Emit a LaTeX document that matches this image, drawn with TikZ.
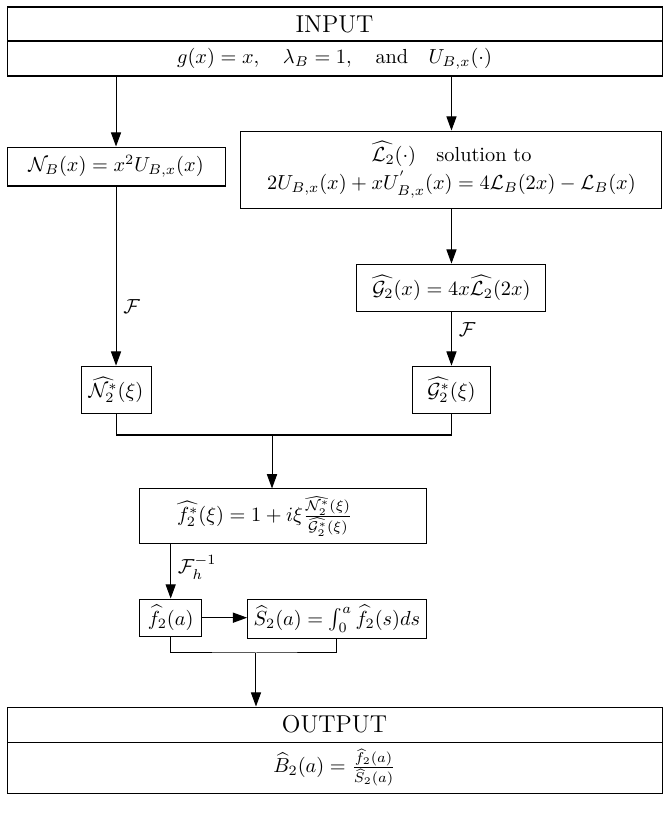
\documentclass[tikz,border=0pt]{standalone}
\usepackage{amssymb}
\usepackage{amsmath}
\usepackage{tikz}
\usetikzlibrary{arrows.meta,positioning,calc}
\tikzset{
  blk/.style={rectangle, draw=black, line width=0.5pt, align=center, inner sep=3pt},
  arr/.style={-{Triangle[length=7pt,width=5pt]}, line width=0.5pt, draw=black},
  lnk/.style={line width=0.5pt, draw=black},
}

\begin{document}
\begin{tikzpicture}
        \useasboundingbox (0,0) rectangle (11.55,-14.126);
        % input block
        \node[blk, minimum width=11.325cm, minimum height=0.588cm, font=\large] (inhead) at (5.784,-0.415) {INPUT};
        \node[blk, minimum width=11.325cm, minimum height=0.605cm, below=-0.5pt of inhead] (inbody)
          {$g(x)=x,\quad \lambda_B=1,\quad \text{and}\quad U_{B,x}(\cdot)$};
        % left branch
        \node[blk, minimum width=3.769cm, minimum height=0.674cm] (nb) at (2.006,-2.879) {$\mathcal{N}_B(x)=x^2U_{B,x}(x)$};
        % right branch
        \node[blk, minimum width=7.279cm, minimum height=1.331cm] (lsol) at (7.806,-2.931)
          {$\widehat{\mathcal{L}_2}(\cdot)\quad\text{solution to}$\\[2pt]
           $2U_{B,x}(x)+xU_{B,x}^{'}(x)=4\mathcal{L}_B(2x)-\mathcal{L}_B(x)$};
        \node[blk, minimum width=3.268cm, minimum height=0.813cm, below=0.952cm of lsol] (gtwo)
          {$\widehat{\mathcal{G}_2}(x)=4x\widehat{\mathcal{L}_2}(2x)$};
        \node[blk, minimum width=1.349cm, minimum height=0.813cm, below=0.934cm of gtwo] (gstar) {$\widehat{\mathcal{G}_2^*}(\xi)$};
        \node[blk, minimum width=1.21cm, minimum height=0.813cm] (nstar) at (nb |- gstar) {$\widehat{\mathcal{N}_2^*}(\xi)$};
        \coordinate (jtop) at (4.703,-7.521);
        % middle
        \node[blk, text width=4.745cm, align=left, minimum height=0.951cm] (fstar) at (4.893,-8.930)
          {\hspace*{0.54cm}$\widehat{f_2^*}(\xi)=1+i\xi\frac{\widehat{\mathcal{N}_2^*}(\xi)}{\widehat{\mathcal{G}_2^*}(\xi)}$};
        \node[blk, minimum width=1.072cm, minimum height=0.536cm, below right=0.934cm and 0cm of fstar.south west] (ftwo)
          {$\widehat{f}_2(a)$};
        \node[blk, minimum width=2.957cm, minimum height=0.536cm, below left=0.934cm and 0cm of fstar.south east] (stwo)
          {$\widehat{S}_2(a)=\int_0^a\widehat{f}_2(s)ds$};
        \coordinate (jbot) at (4.426,-11.29);
        % output block
        \node[blk, minimum width=11.325cm, minimum height=0.605cm, font=\large] (outhead) at (5.784,-12.527) {OUTPUT};
        \node[blk, minimum width=11.325cm, minimum height=0.882cm, below=-0.5pt of outhead] (outbody)
          {$\widehat{B}_2(a)=\frac{\widehat{f}_2(a)}{\widehat{S}_2(a)}$};

        \draw[arr] (inbody.south -| nb) -- (nb);
        \draw[arr] (inbody.south -| lsol) -- (lsol);
        \draw[arr] (nb) -- node[right, pos=0.67] {$\mathcal{F}$} (nstar);
        \draw[arr] (lsol) -- (gtwo);
        \draw[arr] (gtwo) -- node[right, pos=0.33] {$\mathcal{F}$} (gstar);
        \draw[lnk] (nstar) |- (jtop) -| (gstar);
        \draw[arr] (jtop) -- (jtop |- fstar.north);
        \draw[arr] (fstar.south -| ftwo) -- node[right, pos=0.42] {$\mathcal{F}_h^{-1}$} (ftwo);
        \draw[arr] (ftwo) -- (ftwo -| stwo.west);
        \draw[lnk] (ftwo) |- (jbot) -| (stwo);
        \draw[arr] (jbot) -- (jbot |- outhead.north);
      \end{tikzpicture}
\end{document}
